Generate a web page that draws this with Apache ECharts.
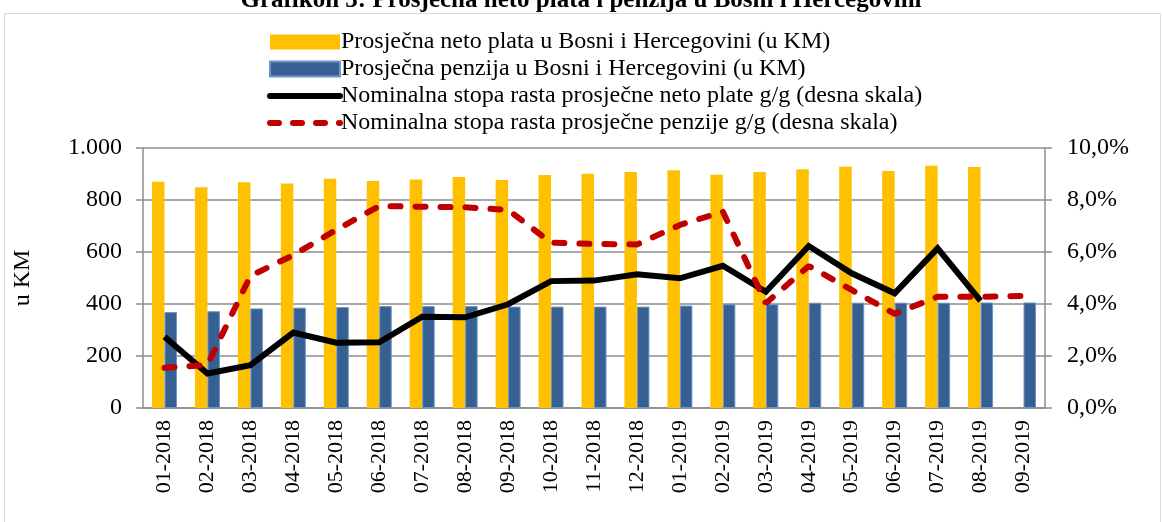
<!DOCTYPE html>
<html>
<head>
<meta charset="utf-8">
<script src="https://cdn.jsdelivr.net/npm/echarts@6/dist/echarts.min.js"></script>
<style>
  html, body { margin: 0; padding: 0; background: #fff; }
  #chart { width: 1162px; height: 522px; }
</style>
</head>
<body>
<div id="chart"></div>
<script>
// mjeseci
const months = ['01-2018', '02-2018', '03-2018', '04-2018', '05-2018', '06-2018', '07-2018',
  '08-2018', '09-2018', '10-2018', '11-2018', '12-2018', '01-2019', '02-2019', '03-2019',
  '04-2019', '05-2019', '06-2019', '07-2019', '08-2019', '09-2019']

// prosječna neto plata (KM)
const netoPlata = [870, 849, 868, 863, 882, 873, 879, 888, 877, 896, 901, 908, 914, 897, 908,
  918, 928, 912, 932, 927, null]

// prosječna penzija (KM)
const penzija = [369, 372, 383, 386, 388, 392, 392, 392, 390, 390, 390, 390, 394, 399, 399,
  405, 405, 405, 405, 406, 406]

// stopa rasta plate g/g (%)
const rastPlate = [2.74, 1.33, 1.65, 2.90, 2.51, 2.53, 3.51, 3.49, 3.99, 4.88, 4.90, 5.14, 4.99,
  5.47, 4.47, 6.23, 5.18, 4.41, 6.14, 4.12, null]

// stopa rasta penzije g/g (%)
const rastPenzije = [1.55, 1.65, 5.08, 5.88, 6.85, 7.77, 7.74, 7.72, 7.62, 6.36, 6.31, 6.29, 7.04,
  7.55, 4.03, 5.46, 4.54, 3.62, 4.28, 4.28, 4.31]

const names = [
  'Prosječna neto plata u Bosni i Hercegovini (u KM)',
  'Prosječna penzija u Bosni i Hercegovini (u KM)',
  'Nominalna stopa rasta prosječne neto plate g/g (desna skala)',
  'Nominalna stopa rasta prosječne penzije g/g (desna skala)'
]

const font = '"Liberation Serif", "Times New Roman", serif'
const gridColor = '#8c8c8c'

const chart = echarts.init(document.getElementById('chart'), null, { renderer: 'canvas' })

chart.setOption({
  animation: false,
  textStyle: { fontFamily: font },
  title: {
    text: 'Grafikon 3: Prosječna neto plata i penzija u Bosni i Hercegovini',
    left: 'center',
    top: -17,
    textStyle: { fontFamily: font, fontSize: 25, fontWeight: 'bold', color: '#000' }
  },
  // okvir grafikona
  graphic: [{
    type: 'rect',
    shape: { x: 4.5, y: 13.5, width: 1156, height: 520 },
    style: { fill: 'none', stroke: '#d9d9d9', lineWidth: 1 },
    silent: true
  }],
  legend: {
    orient: 'vertical',
    left: 262,
    top: 25,
    itemWidth: 70,
    itemHeight: 15,
    itemGap: 3,
    textStyle: { fontFamily: font, fontSize: 24, color: '#000', padding: [0, 0, 0, -4] },
    data: [
      { name: names[0], icon: 'rect' },
      { name: names[1], icon: 'rect' },
      { name: names[2], itemStyle: { opacity: 0 }, lineStyle: { width: 6, cap: 'round' } },
      { name: names[3], itemStyle: { opacity: 0 }, lineStyle: { width: 6, type: [9, 14], cap: 'round' } }
    ]
  },
  grid: { left: 143, right: 117, top: 148, bottom: 114 },
  xAxis: {
    type: 'category',
    data: months,
    axisLine: { lineStyle: { color: gridColor, width: 1.5 } },
    axisTick: { show: false },
    axisLabel: {
      rotate: 90,
      color: '#000',
      fontFamily: font,
      fontSize: 22,
      margin: 12
    }
  },
  yAxis: [{
    type: 'value',
    min: 0,
    max: 1000,
    interval: 200,
    name: 'u KM',
    nameLocation: 'middle',
    nameGap: 108,
    nameTextStyle: { fontFamily: font, fontSize: 24, color: '#000' },
    axisLine: { show: true, lineStyle: { color: gridColor, width: 1.5 } },
    axisTick: { show: true, length: 7, lineStyle: { color: gridColor, width: 1.5 } },
    axisLabel: {
      color: '#000',
      fontFamily: font,
      fontSize: 24,
      margin: 21,
      formatter: v => v >= 1000 ? '1.000' : String(v)
    },
    splitLine: { lineStyle: { color: gridColor, width: 1.5 } }
  }, {
    type: 'value',
    min: 0,
    max: 10,
    interval: 2,
    axisLine: { show: true, lineStyle: { color: gridColor, width: 1.5 } },
    axisTick: { show: true, length: 7, lineStyle: { color: gridColor, width: 1.5 } },
    axisLabel: {
      color: '#000',
      fontFamily: font,
      fontSize: 24,
      margin: 22,
      formatter: v => v.toFixed(1).replace('.', ',') + '%'
    },
    splitLine: { show: false }
  }],
  series: [
    {
      name: names[0],
      type: 'bar',
      data: netoPlata,
      barWidth: 12.5,
      barGap: '0%',
      itemStyle: { color: '#ffc000' }
    },
    {
      name: names[1],
      type: 'bar',
      data: penzija,
      barWidth: 12.5,
      itemStyle: { color: '#376092', borderColor: '#6d95c8', borderWidth: 1 }
    },
    {
      name: names[2],
      type: 'line',
      yAxisIndex: 1,
      data: rastPlate,
      symbol: 'none',
      lineStyle: { color: '#000', width: 6, join: 'miter' },
      itemStyle: { color: '#000' }
    },
    {
      name: names[3],
      type: 'line',
      yAxisIndex: 1,
      data: rastPenzije,
      symbol: 'none',
      lineStyle: { color: '#c00000', width: 6, type: [10, 15], cap: 'round' },
      itemStyle: { color: '#c00000' }
    }
  ]
})
</script>
</body>
</html>
